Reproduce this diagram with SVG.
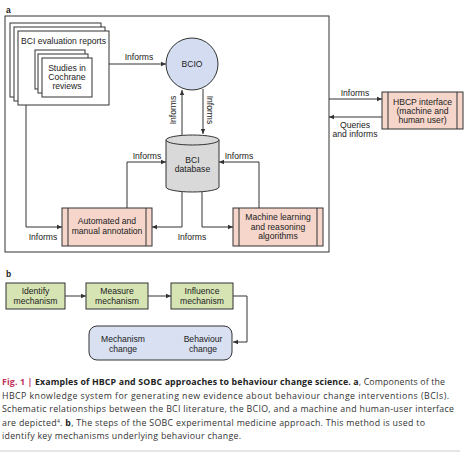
<svg xmlns="http://www.w3.org/2000/svg" width="473" height="452" viewBox="0 0 473 452">
<style>
text{font-family:"Liberation Sans",Arial,sans-serif;font-size:8.6px;fill:#222}
.ln{fill:none;stroke:#333;stroke-width:1}
.pg{fill:#fff;stroke:#333;stroke-width:1}
.pe{fill:#f6d6cb;stroke:#333;stroke-width:1}
.gr{fill:#d6e4b4;stroke:#333;stroke-width:1}
.c{text-anchor:middle}
.lab{font-weight:bold;font-size:8.5px}
.cap{font-family:"Open Sans","Noto Sans",sans-serif;font-size:8.8px;fill:#333}
</style>
<defs>
<marker id="ah" markerWidth="6" markerHeight="6" refX="5" refY="3" orient="auto" markerUnits="userSpaceOnUse">
<path d="M0,0.8 L5,3 L0,5.2 z" fill="#333"/>
</marker>
</defs>

<text x="6" y="13" class="lab">a</text>
<rect x="5" y="16" width="324" height="236" class="ln"/>

<g id="reports">
<rect x="10" y="23" width="91" height="74" class="pg"/>
<rect x="14" y="27" width="91" height="74" class="pg"/>
<rect x="18" y="31" width="91" height="74" class="pg"/>
<text x="63.5" y="44" class="c">BCI evaluation reports</text>
</g>
<g id="cochrane">
<rect x="35" y="50" width="50" height="39" class="pg"/>
<rect x="38" y="54" width="50" height="39" class="pg"/>
<rect x="42" y="58" width="50" height="39" class="pg"/>
<text x="67" y="71" class="c">Studies in</text>
<text x="67" y="80" class="c">Cochrane</text>
<text x="67" y="89" class="c">reviews</text>
</g>

<g id="bcio">
<circle cx="192" cy="64" r="26" fill="#d3dcf0" stroke="#333" stroke-width="1"/>
<text x="192" y="67" class="c">BCIO</text>
</g>

<g id="database">
<path d="M166,140 L166,187 A26.5,5 0 0 0 219,187 L219,140" fill="#d9d9d9" stroke="#333" stroke-width="1"/>
<ellipse cx="192.5" cy="140" rx="26.5" ry="5" fill="#d9d9d9" stroke="#333" stroke-width="1"/>
<text x="192.5" y="163" class="c">BCI</text>
<text x="192.5" y="172" class="c">database</text>
</g>

<g id="annotation">
<rect x="62" y="208" width="90" height="38" class="pe"/>
<line x1="68" y1="208" x2="68" y2="246" class="ln"/>
<line x1="146" y1="208" x2="146" y2="246" class="ln"/>
<text x="107" y="224" class="c">Automated and</text>
<text x="107" y="233.5" class="c">manual annotation</text>
</g>

<g id="ml">
<rect x="233" y="208" width="90" height="38" class="pe"/>
<line x1="239" y1="208" x2="239" y2="246" class="ln"/>
<line x1="317" y1="208" x2="317" y2="246" class="ln"/>
<text x="278" y="220" class="c">Machine learning</text>
<text x="278" y="229.5" class="c">and reasoning</text>
<text x="278" y="239" class="c">algorithms</text>
</g>

<g id="hbcp">
<rect x="382" y="92" width="81" height="37" class="pe"/>
<line x1="388" y1="92" x2="388" y2="129" class="ln"/>
<line x1="457" y1="92" x2="457" y2="129" class="ln"/>
<text x="422.5" y="105" class="c">HBCP interface</text>
<text x="422.5" y="114" class="c">(machine and</text>
<text x="422.5" y="123" class="c">human user)</text>
</g>

<g id="connectors">
<line x1="109" y1="64" x2="166" y2="64" class="ln" marker-end="url(#ah)"/>
<text x="139" y="60" class="c">Informs</text>
<line x1="182" y1="135" x2="182" y2="90" class="ln" marker-end="url(#ah)"/>
<text transform="translate(176,110) rotate(-90)" class="c">Informs</text>
<line x1="203" y1="89" x2="203" y2="134" class="ln" marker-end="url(#ah)"/>
<text transform="translate(207,110) rotate(90)" class="c">Informs</text>
<polyline points="127,208 127,162 166,162" class="ln" marker-end="url(#ah)"/>
<text x="147" y="159" class="c">Informs</text>
<polyline points="259,208 259,162 219,162" class="ln" marker-end="url(#ah)"/>
<text x="239" y="159" class="c">Informs</text>
<polyline points="26,105 26,227 62,227" class="ln" marker-end="url(#ah)"/>
<text x="43" y="240" class="c">Informs</text>
<polyline points="182,192 182,227 152,227" class="ln" marker-end="url(#ah)"/>
<polyline points="202,192 202,227 233,227" class="ln" marker-end="url(#ah)"/>
<text x="192" y="240" class="c">Informs</text>
<line x1="329" y1="99" x2="382" y2="99" class="ln" marker-end="url(#ah)"/>
<text x="355" y="96" class="c">Informs</text>
<line x1="382" y1="117" x2="329" y2="117" class="ln" marker-end="url(#ah)"/>
<text x="355" y="128" class="c">Queries</text>
<text x="355" y="137" class="c">and informs</text>
<line x1="65" y1="296" x2="86" y2="296" class="ln" marker-end="url(#ah)"/>
<line x1="148" y1="296" x2="171" y2="296" class="ln" marker-end="url(#ah)"/>
<polyline points="233,296 247,296 247,342 233,342" class="ln" marker-end="url(#ah)"/>
<line x1="150" y1="341" x2="178" y2="341" class="ln" marker-end="url(#ah)"/>
</g>

<text x="6" y="277" class="lab">b</text>
<g id="identify">
<rect x="6" y="283" width="59" height="26" class="gr"/>
<text x="35.5" y="294" class="c">Identify</text>
<text x="35.5" y="303.5" class="c">mechanism</text>
</g>
<g id="measure">
<rect x="86" y="283" width="62" height="26" class="gr"/>
<text x="117" y="294" class="c">Measure</text>
<text x="117" y="303.5" class="c">mechanism</text>
</g>
<g id="influence">
<rect x="171" y="283" width="62" height="26" class="gr"/>
<text x="202" y="294" class="c">Influence</text>
<text x="202" y="303.5" class="c">mechanism</text>
</g>
<g id="change">
<rect x="89" y="326" width="143" height="34" rx="8" fill="#d8e0f2" stroke="#333" stroke-width="1"/>
<text x="123" y="342" class="c">Mechanism</text>
<text x="123" y="352" class="c">change</text>
<text x="203" y="342" class="c">Behaviour</text>
<text x="203" y="352" class="c">change</text>
</g>

<g id="caption" class="cap">
<text x="2" y="385" class="cap" textLength="443" lengthAdjust="spacing"><tspan fill="#c0305a" font-weight="bold">Fig. 1 | </tspan><tspan font-weight="bold" fill="#222">Examples of HBCP and SOBC approaches to behaviour change science. a</tspan>, Components of the</text>
<text x="2" y="398.5" class="cap" textLength="447" lengthAdjust="spacing">HBCP knowledge system for generating new evidence about behaviour change interventions (BCIs).</text>
<text x="2" y="412" class="cap" textLength="452" lengthAdjust="spacing">Schematic relationships between the BCI literature, the BCIO, and a machine and human-user interface</text>
<text x="2" y="425.5" class="cap" textLength="423" lengthAdjust="spacing">are depicted<tspan font-size="5" dy="-3">4</tspan><tspan dy="3">. </tspan><tspan font-weight="bold" fill="#222">b</tspan>, The steps of the SOBC experimental medicine approach. This method is used to</text>
<text x="2" y="439" class="cap" textLength="239" lengthAdjust="spacing">identify key mechanisms underlying behaviour change.</text>
</g>
<line x1="0" y1="451" x2="460" y2="451" stroke="#ccc" stroke-width="1"/>
</svg>
